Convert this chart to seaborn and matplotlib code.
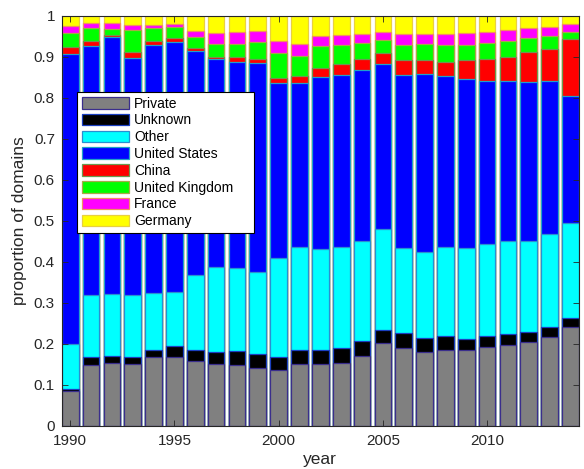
import numpy as np
import pandas as pd
import matplotlib
matplotlib.use("Agg")
import matplotlib.pyplot as plt
from matplotlib.patches import Patch
from matplotlib.ticker import FuncFormatter
import seaborn as sns

# data (share of domains per year)
years = list(range(1990, 2015))
series = ["Private", "Unknown", "Other", "United States",
          "China", "United Kingdom", "France", "Germany"]

private = [.086, .149, .154, .150, .168, .169, .157, .150, .149, .141, .137, .151, .151,
           .153, .171, .202, .191, .181, .186, .184, .193, .198, .204, .216, .240]
unknown = [.005, .019, .016, .018, .017, .027, .028, .030, .033, .035, .031, .034, .034,
           .038, .035, .031, .035, .034, .033, .029, .027, .027, .025, .025, .022]
other = [.109, .151, .152, .152, .139, .131, .182, .208, .202, .199, .241, .252, .247,
         .246, .244, .248, .207, .209, .217, .220, .224, .225, .223, .228, .234]
united_states = [.707, .608, .626, .577, .605, .610, .548, .506, .504, .511, .427, .399, .419,
                 .419, .418, .401, .423, .435, .417, .414, .398, .392, .387, .372, .309]
china = [.018, .013, .006, .016, .011, .008, .006, .007, .011, .008, .012, .018, .022,
         .026, .027, .027, .036, .034, .035, .045, .054, .059, .072, .079, .138]
united_kingdom = [.033, .030, .014, .052, .030, .027, .027, .030, .032, .042, .062, .048, .054,
                  .048, .038, .032, .038, .038, .040, .038, .037, .037, .034, .031, .019]
france = [.018, .012, .016, .012, .009, .009, .016, .027, .031, .027, .030, .030, .024,
          .024, .024, .021, .025, .026, .029, .028, .028, .028, .026, .023, .018]
germany = [.024, .018, .016, .023, .021, .019, .036, .042, .038, .037, .060, .068, .049,
           .046, .043, .038, .045, .043, .043, .042, .039, .034, .029, .026, .020]

fill_colors = ["#808080", "#000000", "#00ffff", "#0000ff",
               "#ff0000", "#00ff00", "#ff00ff", "#ffff00"]
edge_colors = ["#3a2e8c", "#1a3fc0", "#2a8fd0", "#20a0c8",
               "#6a9a50", "#a8a848", "#f09060", "#e8d040"]

values = np.array([private, unknown, other, united_states,
                   china, united_kingdom, france, germany])
tops = np.cumsum(values, axis=0)

df = pd.DataFrame({
    "year": np.tile(years, len(series)),
    "series": np.repeat(series, len(years)),
    "top": tops.ravel(),
})

plt.rcParams["font.family"] = ["Liberation Sans", "DejaVu Sans"]
fig = plt.figure(figsize=(5.84, 4.69), dpi=100)
ax = fig.add_axes([0.106, 0.092, 0.885, 0.874])

# stacked bars: draw cumulative totals from the top series down
for i in range(len(series) - 1, -1, -1):
    sub = df[df["series"] == series[i]]
    sns.barplot(data=sub, x="year", y="top", native_scale=True, width=0.8,
                color=fill_colors[i], edgecolor=edge_colors[i], linewidth=0.9,
                saturation=1, errorbar=None, ax=ax)

ax.set_xlim(1989.6, 2014.4)
ax.set_ylim(0, 1)
ax.set_xticks([1990, 1995, 2000, 2005, 2010])
ax.set_yticks(np.arange(0, 1.01, 0.1))
ax.yaxis.set_major_formatter(FuncFormatter(lambda v, p: f"{v:.1f}".rstrip("0").rstrip(".") if v else "0"))
ax.tick_params(direction="in", top=True, right=True, length=4, width=0.6,
               labelsize=11, colors="#262626")
ax.tick_params(axis="x", pad=6)
ax.tick_params(axis="y", pad=5)
for sp in ax.spines.values():
    sp.set_color("#262626")
    sp.set_linewidth(0.8)

ax.set_xlabel("year", fontsize=12.5, color="#262626", labelpad=3)
ax.set_ylabel("proportion of domains", fontsize=12.5, color="#262626", labelpad=5)

handles = [Patch(facecolor=fill_colors[i], edgecolor=edge_colors[i], linewidth=0.9, label=series[i])
           for i in range(len(series))]
leg = ax.legend(handles=handles, loc="upper left",
                bbox_to_anchor=(0.030, 0.471, 0.341, 0.344), mode="expand",
                borderaxespad=0, fontsize=10, frameon=True, fancybox=False,
                framealpha=1, edgecolor="black", handlelength=3.4, handleheight=0.9,
                handletextpad=0.35, labelspacing=0.2, borderpad=0.35)
leg.get_frame().set_linewidth(0.8)

fig.savefig("out.png", dpi=100)
